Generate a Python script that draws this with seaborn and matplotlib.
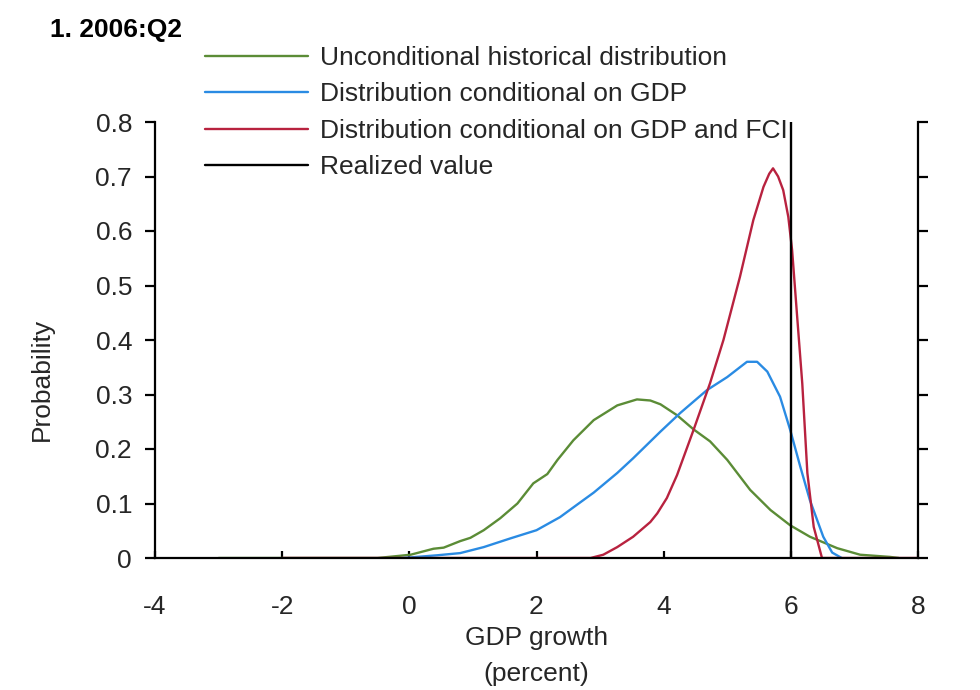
import matplotlib
matplotlib.use("Agg")
import matplotlib.pyplot as plt
import seaborn as sns
import pandas as pd

# GDP growth grid points and density values for each distribution
green_x = [-3, -0.5, 0.02, 0.38, 0.54, 0.8, 0.96, 1.17, 1.43, 1.7, 1.95, 2.17, 2.33, 2.58, 2.9,
           3.27, 3.58, 3.79, 3.95, 4.21, 4.47, 4.73, 5.0, 5.36, 5.68, 5.99, 6.3, 6.73, 7.09, 7.56, 7.7]
green_y = [0, 0, 0.006, 0.017, 0.019, 0.031, 0.037, 0.051, 0.073, 0.1, 0.137, 0.154, 0.18, 0.216, 0.253,
           0.28, 0.291, 0.289, 0.282, 0.262, 0.236, 0.214, 0.18, 0.125, 0.088, 0.06, 0.039, 0.018, 0.006, 0.002, 0]

blue_x = [-0.1, 0.44, 0.8, 1.17, 1.59, 2.0, 2.37, 2.64, 2.9, 3.27, 3.52, 3.95, 4.26, 4.68, 5.0,
          5.31, 5.47, 5.63, 5.83, 5.99, 6.15, 6.3, 6.51, 6.65, 6.8]
blue_y = [0, 0.005, 0.009, 0.02, 0.036, 0.051, 0.075, 0.098, 0.12, 0.156, 0.183, 0.232, 0.266, 0.308, 0.332,
          0.36, 0.36, 0.342, 0.296, 0.235, 0.167, 0.106, 0.039, 0.01, 0]

red_x = [-2, 2.85, 3.05, 3.27, 3.52, 3.79, 3.9, 4.05, 4.21, 4.47, 4.73, 4.94, 5.2, 5.41, 5.57, 5.66, 5.72,
         5.8, 5.88, 5.96, 6.02, 6.1, 6.18, 6.26, 6.36, 6.49, 8]
red_y = [0, 0, 0.006, 0.02, 0.039, 0.066, 0.082, 0.11, 0.152, 0.235, 0.321, 0.4, 0.516, 0.62, 0.681, 0.705, 0.715,
         0.7, 0.675, 0.626, 0.565, 0.442, 0.32, 0.156, 0.057, 0, 0]

realized_value = 6.0

series_names = [
    "Unconditional historical distribution",
    "Distribution conditional on GDP",
    "Distribution conditional on GDP and FCI",
]
realized_label = "Realized value"
series_colors = ["#5b8c36", "#2a8be3", "#b8223f"]

x_ticks = [-4, -2, 0, 2, 4, 6, 8]
x_tick_labels = ["-4", "-2", "0", "2", "4", "6", "8"]
y_ticks = [0, 0.1, 0.2, 0.3, 0.4, 0.5, 0.6, 0.7, 0.8]
y_tick_labels = ["0", "0.1", "0.2", "0.3", "0.4", "0.5", "0.6", "0.7", "0.8"]

sns.set_theme(style="ticks")
plt.rcParams["font.family"] = ["Liberation Sans", "DejaVu Sans"]
text_color = "#262626"
fs = 19

frames = []
for name, xs, ys in zip(series_names, [green_x, blue_x, red_x], [green_y, blue_y, red_y]):
    frames.append(pd.DataFrame({"growth": xs, "density": ys, "series": name}))
df = pd.concat(frames, ignore_index=True)

fig = plt.figure(figsize=(9.8, 6.9), dpi=100)
ax = fig.add_axes([155 / 980, 1 - 558 / 690, (918 - 155) / 980, (558 - 122) / 690])

sns.lineplot(data=df, x="growth", y="density", hue="series", hue_order=series_names,
             palette=series_colors, sort=False, estimator=None, linewidth=1.7, ax=ax,
             legend=False)
ax.axvline(realized_value, ymin=0, ymax=1, color="black", linewidth=1.7)

ax.set_xlim(-4, 8)
ax.set_ylim(0, 0.8)
ax.set_xticks(x_ticks)
ax.set_xticklabels(x_tick_labels)
ax.set_yticks(y_ticks)
ax.set_yticklabels(y_tick_labels)

for side in ["left", "right", "bottom"]:
    ax.spines[side].set_visible(True)
    ax.spines[side].set_color("black")
    ax.spines[side].set_linewidth(1.6)
ax.spines["top"].set_visible(False)

ax.tick_params(axis="y", which="both", direction="out", length=7.5, width=1.6,
               left=True, right=True, labelright=False, labelsize=fs,
               labelcolor=text_color, color="black", pad=9)
ax.tick_params(axis="x", direction="in", length=5, width=1.6, labelsize=fs,
               labelcolor=text_color, color="black", pad=27)

ax.set_xlabel("GDP growth\n(percent)", fontsize=fs, color=text_color, labelpad=5,
              linespacing=1.62)
ax.set_ylabel("")
fig.text(42 / 980, 1 - 379 / 690, "Probability", rotation=90, fontsize=fs,
         color=text_color, ha="center", va="center")

fig.text(50 / 980, 1 - 30 / 690, "1. 2006:Q2", fontsize=fs, fontweight="bold",
         color="black", va="center", ha="left")

handles = [plt.Line2D([], [], color=c, linewidth=1.7) for c in series_colors]
handles.append(plt.Line2D([], [], color="black", linewidth=1.7))
labels = series_names + [realized_label]
fig.legend(handles, labels, loc="upper left", bbox_to_anchor=(205 / 980, 1 - 46 / 690),
           frameon=False, fontsize=fs, handlelength=3.9, handletextpad=0.45,
           labelspacing=0.47, borderpad=0, borderaxespad=0, labelcolor=text_color)

fig.savefig("out.png", dpi=100)
